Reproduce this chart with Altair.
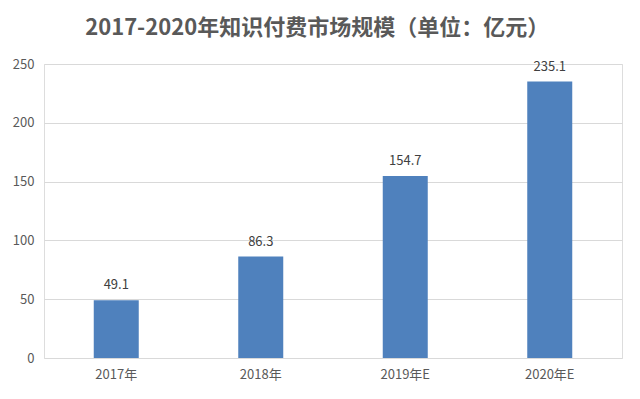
import altair as alt
import pandas as pd

categories = ["2017年", "2018年", "2019年E", "2020年E"]
values = [49.1, 86.3, 154.7, 235.1]
y_ticks = [0, 50, 100, 150, 200, 250]

df = pd.DataFrame({"year": categories, "value": values})
font = "Noto Sans CJK SC"

base = alt.Chart(df).encode(
    x=alt.X("year:N", sort=categories, title=None,
            scale=alt.Scale(paddingInner=0, paddingOuter=0),
            axis=alt.Axis(labelAngle=0, ticks=False, domain=False, labelPadding=10,
                          labelFontSize=13, labelColor="#595959", labelFont=font)),
    y=alt.Y("value:Q", title=None,
            scale=alt.Scale(domain=[0, 250], nice=False),
            axis=alt.Axis(values=y_ticks, ticks=False, domain=False, labelPadding=10,
                          labelFontSize=13, labelColor="#595959", labelFont=font,
                          gridColor="#D9D9D9", gridWidth=1)),
)

bars = base.mark_bar(size=45, color="#4F81BD")
labels = base.mark_text(baseline="bottom", dy=-8, fontSize=13, color="#404040", font=font).encode(
    text=alt.Text("value:Q", format=".1f")
)

chart = (bars + labels).properties(
    width=578, height=294,
    autosize=alt.AutoSizeParams(type="none"),
    padding={"left": 36, "top": 56, "right": 10, "bottom": 26},
    title=alt.Title("2017-2020年知识付费市场规模（单位：亿元）", font=font, fontSize=22,
                    fontWeight="bold", color="#595959", anchor="middle", frame="bounds", offset=18),
).configure_view(stroke=None).configure(background="white")

chart.save("out.html", embed_options={"renderer": "svg", "actions": False})
